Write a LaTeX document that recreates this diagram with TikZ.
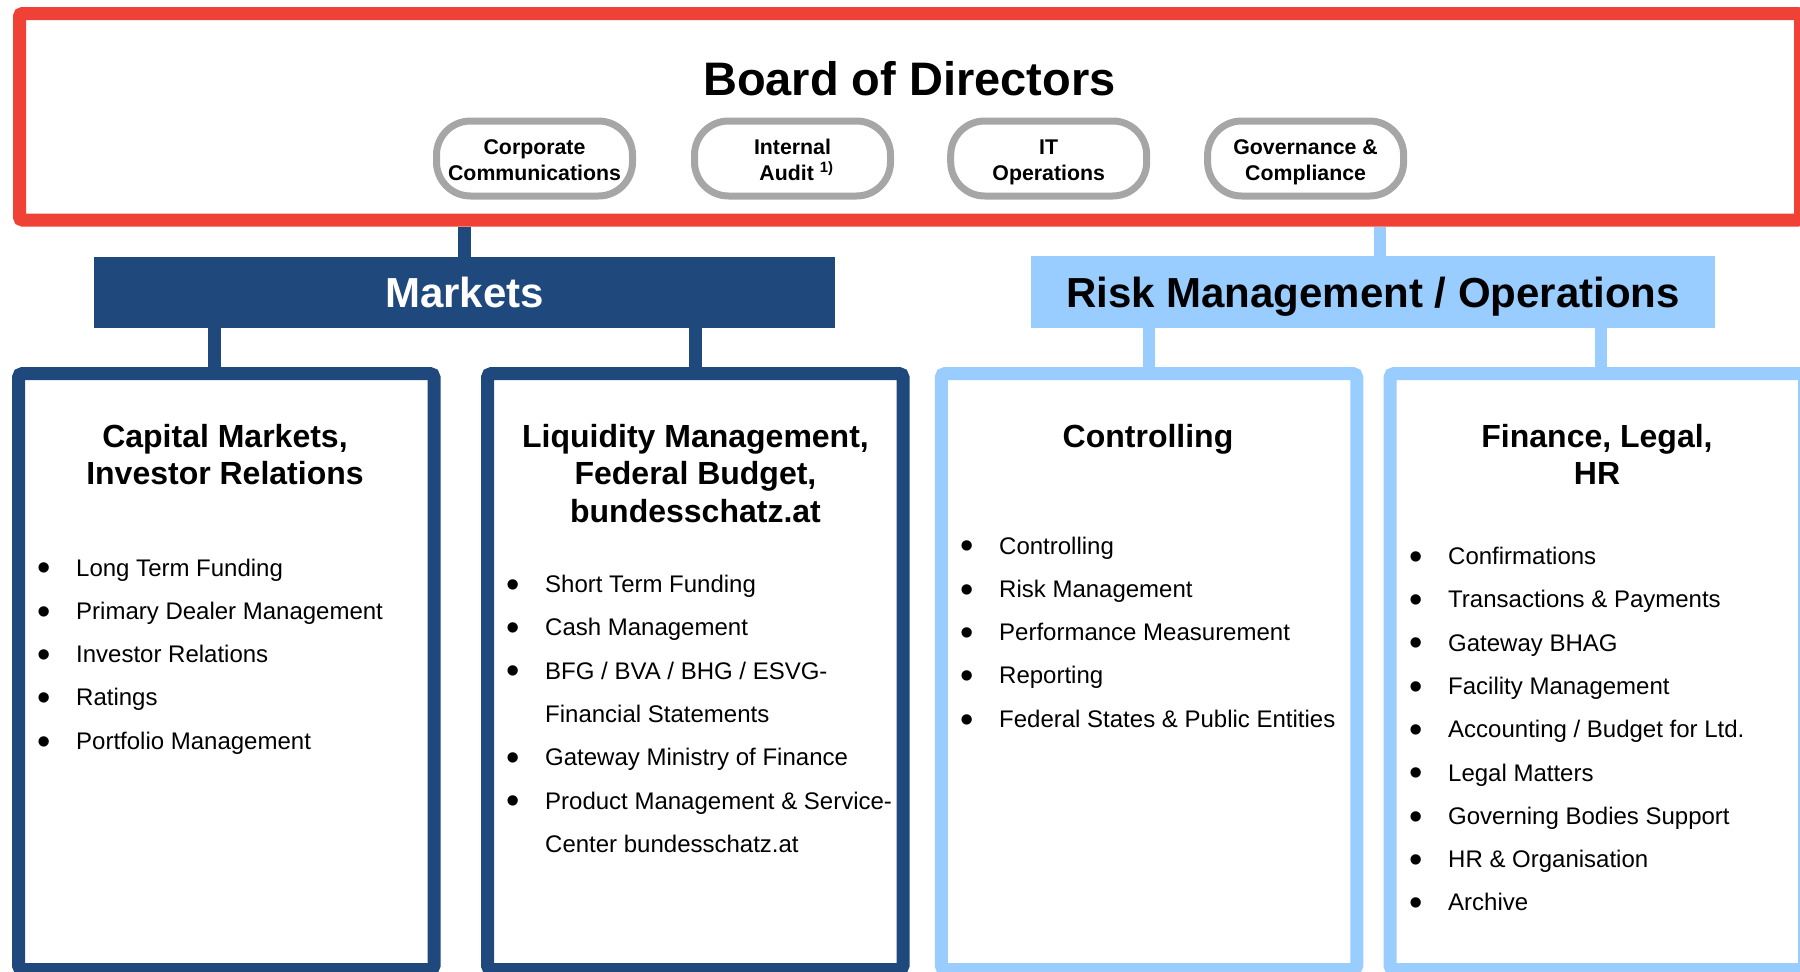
\documentclass[tikz,border=0pt]{standalone}
\usepackage{fontspec}
\setmainfont{Liberation Sans}
\definecolor{bodred}{HTML}{EF4136}
\definecolor{mktblue}{HTML}{1F497D}
\definecolor{riskblue}{HTML}{99CCFF}
\definecolor{pillgray}{HTML}{A6A6A6}
\newcommand\bitem{\makebox[39pt][l]{\raisebox{-4.8pt}{\fontsize{38}{38}\selectfont\textbullet}}}
\newcommand\citem{\hspace*{39pt}}
\newcommand\ptop{\rule{0pt}{22pt}}
\newcommand\pbot{\rule[-5pt]{0pt}{5pt}}
\begin{document}
\begin{tikzpicture}[x=1pt,y=-1pt,
  board/.style={draw=bodred,line width=13pt,rounded corners=3pt,minimum width=1781pt,minimum height=206.5pt,inner sep=0pt},
  pill/.style={draw=pillgray,fill=white,line width=7pt,rounded corners=34pt,minimum width=196pt,minimum height=75pt,inner sep=0pt,align=center,font=\fontsize{21.3}{26}\selectfont\bfseries},
  head/.style={minimum height=71pt,inner sep=0pt,text depth=0pt,font=\fontsize{42}{50}\selectfont\bfseries},
  dept/.style={line width=13pt,rounded corners=4pt,minimum width=415.5pt,minimum height=596pt,inner sep=0pt,fill=white},
  title/.style={anchor=north,inner sep=0pt,align=center,font=\fontsize{32}{37.5}\selectfont\bfseries},
  item/.style={anchor=base west,inner sep=0pt,font=\fontsize{24}{28}\selectfont},
  mconn/.style={draw=mktblue,line width=13pt},
  rconn/.style={draw=riskblue,line width=12pt}]
\useasboundingbox (0,0) rectangle (1800,972);
% Board of Directors
\node[board] (bod) at (910,116.75) {};
\node[anchor=base,inner sep=0pt,font=\fontsize{47}{56}\selectfont\bfseries] (bodt) at (909.5,95) {Board of Directors};
\node[pill] (cc) at (534.5,158.5) {\ptop Corporate\\Communications\pbot};
\node[pill] (ia) at (792.5,158.5) {\ptop Internal\\\hspace*{8pt}Audit \textsuperscript{1)}\pbot};
\node[pill] (it) at (1048.7,158.5) {\ptop IT\\Operations\pbot};
\node[pill] (gc) at (1305.6,158.5) {\ptop Governance \&\\Compliance\pbot};
% Divisions
\node[head,fill=mktblue,text=white,minimum width=741pt] (mkt) at (464.5,292.5) {Markets};
\node[head,fill=riskblue,minimum width=684pt,minimum height=72pt] (risk) at (1373,292) {Risk Management / Operations};
% Departments
\node[dept,draw=mktblue] (cm) at (226.25,671.5) {};
\node[dept,draw=mktblue] (lm) at (695.25,671.5) {};
\node[dept,draw=riskblue] (ctl) at (1149,671.5) {};
\node[dept,draw=riskblue,minimum width=414.5pt] (fin) at (1597.25,671.5) {};
% Connectors
\draw[mconn] (mkt.north) -- (mkt.north |- bod.south);
\draw[rconn] ([xshift=7pt]risk.north) -- ([xshift=7pt]risk.north |- bod.south);
\draw[mconn] ([xshift=-11.5pt]cm.north) -- ([xshift=-11.5pt]cm.north |- mkt.south);
\draw[mconn] (lm.north) -- (lm.north |- mkt.south);
\draw[rconn] (ctl.north) -- (ctl.north |- risk.south);
\draw[rconn] ([xshift=3.75pt]fin.north) -- ([xshift=3.75pt]fin.north |- risk.south);
% Titles
\node[title] (cmt) at (225,422) {\rule{0pt}{25pt}Capital Markets,\\Investor Relations};
\node[title] (lmt) at (695.5,422) {\rule{0pt}{25pt}Liquidity Management,\\Federal Budget,\\bundesschatz.at};
\node[title] (ctlt) at (1148,422) {\rule{0pt}{25pt}Controlling};
\node[title] (fint) at (1597,422) {\rule{0pt}{25pt}Finance, Legal,\\HR};
% Items
\foreach \t [count=\i] in {\bitem Long Term Funding,\bitem Primary Dealer Management,\bitem Investor Relations,\bitem Ratings,\bitem Portfolio Management}
  \node[item] (cm-\i) at (37,{576+43.3*(\i-1)}) {\t};
\foreach \t [count=\i] in {\bitem Short Term Funding,\bitem Cash Management,\bitem BFG / BVA / BHG / ESVG-,\citem Financial Statements,\bitem Gateway Ministry of Finance,\bitem Product Management \& Service-,\citem Center bundesschatz.at}
  \node[item] (lm-\i) at (506,{592.5+43.3*(\i-1)}) {\t};
\foreach \t [count=\i] in {\bitem Controlling,\bitem Risk Management,\bitem Performance Measurement,\bitem Reporting,\bitem Federal States \& Public Entities}
  \node[item] (ctl-\i) at (960,{554+43.3*(\i-1)}) {\t};
\foreach \t [count=\i] in {\bitem Confirmations,\bitem Transactions \& Payments,\bitem Gateway BHAG,\bitem Facility Management,\bitem Accounting / Budget for Ltd.,\bitem Legal Matters,\bitem Governing Bodies Support,\bitem HR \& Organisation,\bitem Archive}
  \node[item] (fin-\i) at (1409,{564.5+43.3*(\i-1)}) {\t};
\end{tikzpicture}
\end{document}
